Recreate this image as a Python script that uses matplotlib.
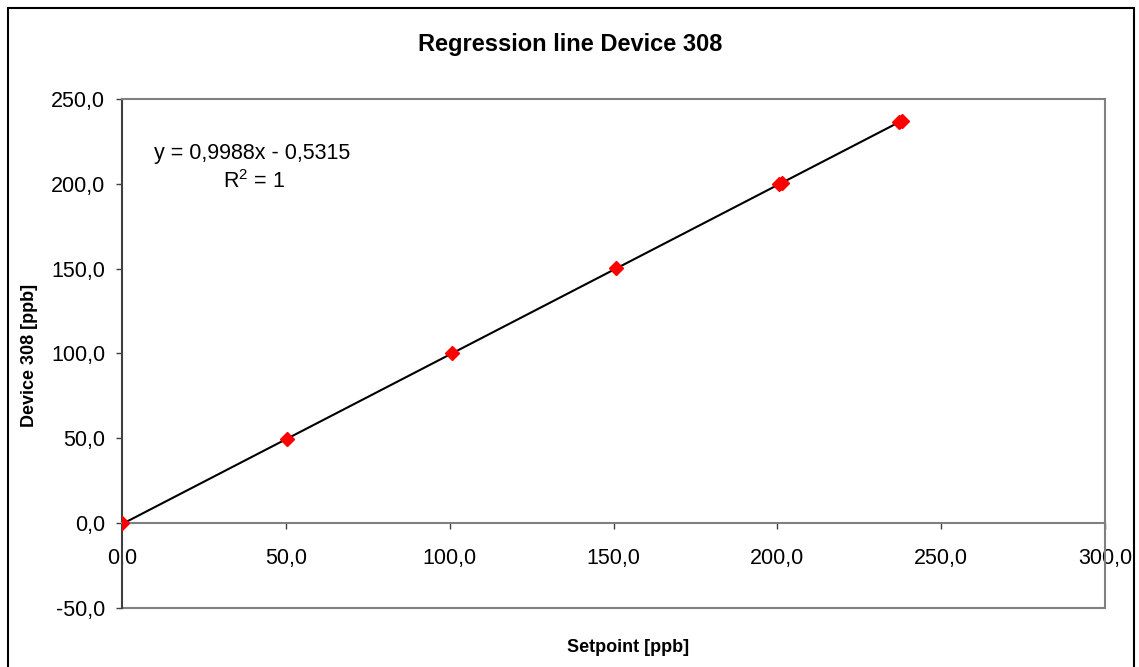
import matplotlib.pyplot as plt
from matplotlib.patches import Rectangle
from matplotlib.ticker import FuncFormatter

# measured concentrations
setpoint = [0.0, 50.4, 100.7, 150.8, 200.5, 201.3, 237.2, 238.1]
device = [0.0, 49.8, 100.1, 150.1, 199.8, 200.6, 236.4, 237.3]

# linear trend line
slope = 0.9988
intercept = -0.5315
r_squared = 1

x_ticks = [0, 50, 100, 150, 200, 250, 300]
y_ticks = [-50, 0, 50, 100, 150, 200, 250]

plt.rcParams['font.family'] = ['Liberation Sans', 'DejaVu Sans']

fig = plt.figure(figsize=(11.39, 6.67), dpi=100)
ax = fig.add_axes([122 / 1139, 59 / 667, 983 / 1139, 509 / 667])

grey = '#808080'
comma = FuncFormatter(lambda v, pos: f'{v:.1f}'.replace('.', ','))

x_end = max(setpoint)
ax.plot([0, x_end], [intercept, slope * x_end + intercept], color='black', lw=1.5, zorder=2)
ax.plot(setpoint, device, linestyle='none', marker='D', markersize=7,
        color='red', markeredgecolor='red', zorder=3)

ax.set_xlim(0, 300)
ax.set_ylim(-50, 250)
ax.set_xticks(x_ticks)
ax.set_yticks(y_ticks)
ax.xaxis.set_major_formatter(comma)
ax.yaxis.set_major_formatter(comma)

for side in ['left', 'right', 'top', 'bottom']:
    ax.spines[side].set_color(grey)
    ax.spines[side].set_linewidth(1.5)
ax.spines['left'].set_color('#404040')
ax.spines['bottom'].set_position(('data', 0))
ax.axhline(-50, color=grey, lw=1.5, clip_on=False, zorder=1)

ax.tick_params(axis='both', direction='out', length=4, width=1, color='#404040',
               labelsize=15.5)
ax.tick_params(axis='x', pad=14)
ax.tick_params(axis='y', pad=8)

ax.text(39.7, 217.6, 'y = 0,9988x - 0,5315', ha='center', va='center', fontsize=15.5)
ax.text(40.2, 201.5, f'$\\mathregular{{R^2}}$ = {r_squared}', ha='center', va='center',
        fontsize=15.5)

fig.text(570 / 1139, 1 - 45 / 667, 'Regression line Device 308',
         ha='center', va='center', fontsize=17, fontweight='bold')
fig.text(628 / 1139, 1 - 648 / 667, 'Setpoint [ppb]',
         ha='center', va='center', fontsize=13, fontweight='bold')
fig.text(30 / 1139, 1 - 355 / 667, 'Device 308 [ppb]', rotation=90,
         ha='center', va='center', fontsize=13, fontweight='bold')

# chart area frame
fig.patches.append(Rectangle((8 / 1139, -0.05), 1126 / 1139, 1.05 - 8 / 667,
                             transform=fig.transFigure, fill=False,
                             edgecolor='black', lw=1.5))

fig.savefig('out.png', dpi=100)
